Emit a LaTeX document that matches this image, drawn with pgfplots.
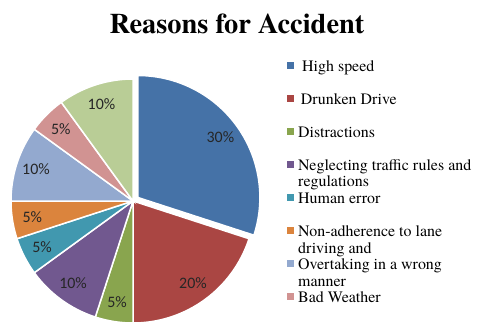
\documentclass[border=0pt]{standalone}
\usepackage{fontspec}
\setmainfont{texgyretermes}[Extension=.otf, UprightFont=*-regular, BoldFont=*-bold, ItalicFont=*-italic, BoldItalicFont=*-bolditalic]
\setsansfont{Carlito}
\usepackage{pgfplots}
\pgfplotsset{compat=1.18}

\definecolor{c1}{HTML}{4572A7}
\definecolor{c2}{HTML}{AA4643}
\definecolor{c3}{HTML}{89A54E}
\definecolor{c4}{HTML}{71588F}
\definecolor{c5}{HTML}{4198AF}
\definecolor{c6}{HTML}{DB843D}
\definecolor{c7}{HTML}{93A9CF}
\definecolor{c8}{HTML}{D19392}
\definecolor{c9}{HTML}{B9CD96}

% #1 cumulative start (%), #2 share (%), #3 colour, #4/#5 centre
\newcommand{\slice}[5]{%
  \addplot[fill=#3, draw=white, line width=1.5bp, domain={90-3.6*(#1+#2)}:{90-3.6*(#1)}, samples=60, variable=\t]
    ({#4+122*cos(\t)},{#5+122*sin(\t)}) -- (axis cs:#4,#5) -- cycle;
  \node[font=\sffamily\fontsize{16}{19}\selectfont, text=black!85] at (axis cs:{#4+102*cos(90-3.6*(#1+#2/2))},{#5+102*sin(90-3.6*(#1+#2/2))}) {#2\%};
}
\newcommand{\legfont}{\rmfamily\mdseries\fontsize{16}{17}\selectfont}
% legend key: colour, baseline y, text
\newcommand{\legkey}[3]{%
  \fill[#1] (axis cs:287,#2+2) rectangle (axis cs:294,#2+9);
  \node[anchor=base west, inner sep=0pt, font=\legfont] at (axis cs:298,#2) {#3};
}

\begin{document}
\begin{tikzpicture}
\begin{axis}[x=1bp, y=1bp, xmin=0, xmax=480, ymin=0, ymax=331,
  scale only axis, hide axis, clip=false]
\path (axis cs:0,0) rectangle (axis cs:480,331);

\slice{0}{30}{c1}{137.9}{133.5}
\slice{30}{20}{c2}{133}{130}
\slice{50}{5}{c3}{133}{130}
\slice{55}{10}{c4}{133}{130}
\slice{65}{5}{c5}{133}{130}
\slice{70}{5}{c6}{133}{130}
\slice{75}{10}{c7}{133}{130}
\slice{85}{5}{c8}{133}{130}
\slice{90}{10}{c9}{133}{130}

\node[anchor=base, font=\rmfamily\bfseries\fontsize{28.5}{33}\selectfont] at (axis cs:237,298) {Reasons for Accident};

\legkey{c1}{260}{\ High speed}
\legkey{c2}{227}{\,Drunken Drive}
\legkey{c3}{194}{Distractions}
\legkey{c4}{161}{Neglecting traffic rules and}
\node[anchor=base west, inner sep=0pt, font=\legfont] at (axis cs:298,145) {regulations};
\legkey{c5}{128}{Human error}
\legkey{c6}{95}{Non-adherence to lane}
\node[anchor=base west, inner sep=0pt, font=\legfont] at (axis cs:298,78) {driving and};
\legkey{c7}{62}{Overtaking in a wrong}
\node[anchor=base west, inner sep=0pt, font=\legfont] at (axis cs:298,45) {manner};
\legkey{c8}{29}{Bad Weather}
\end{axis}
\end{tikzpicture}
\end{document}
